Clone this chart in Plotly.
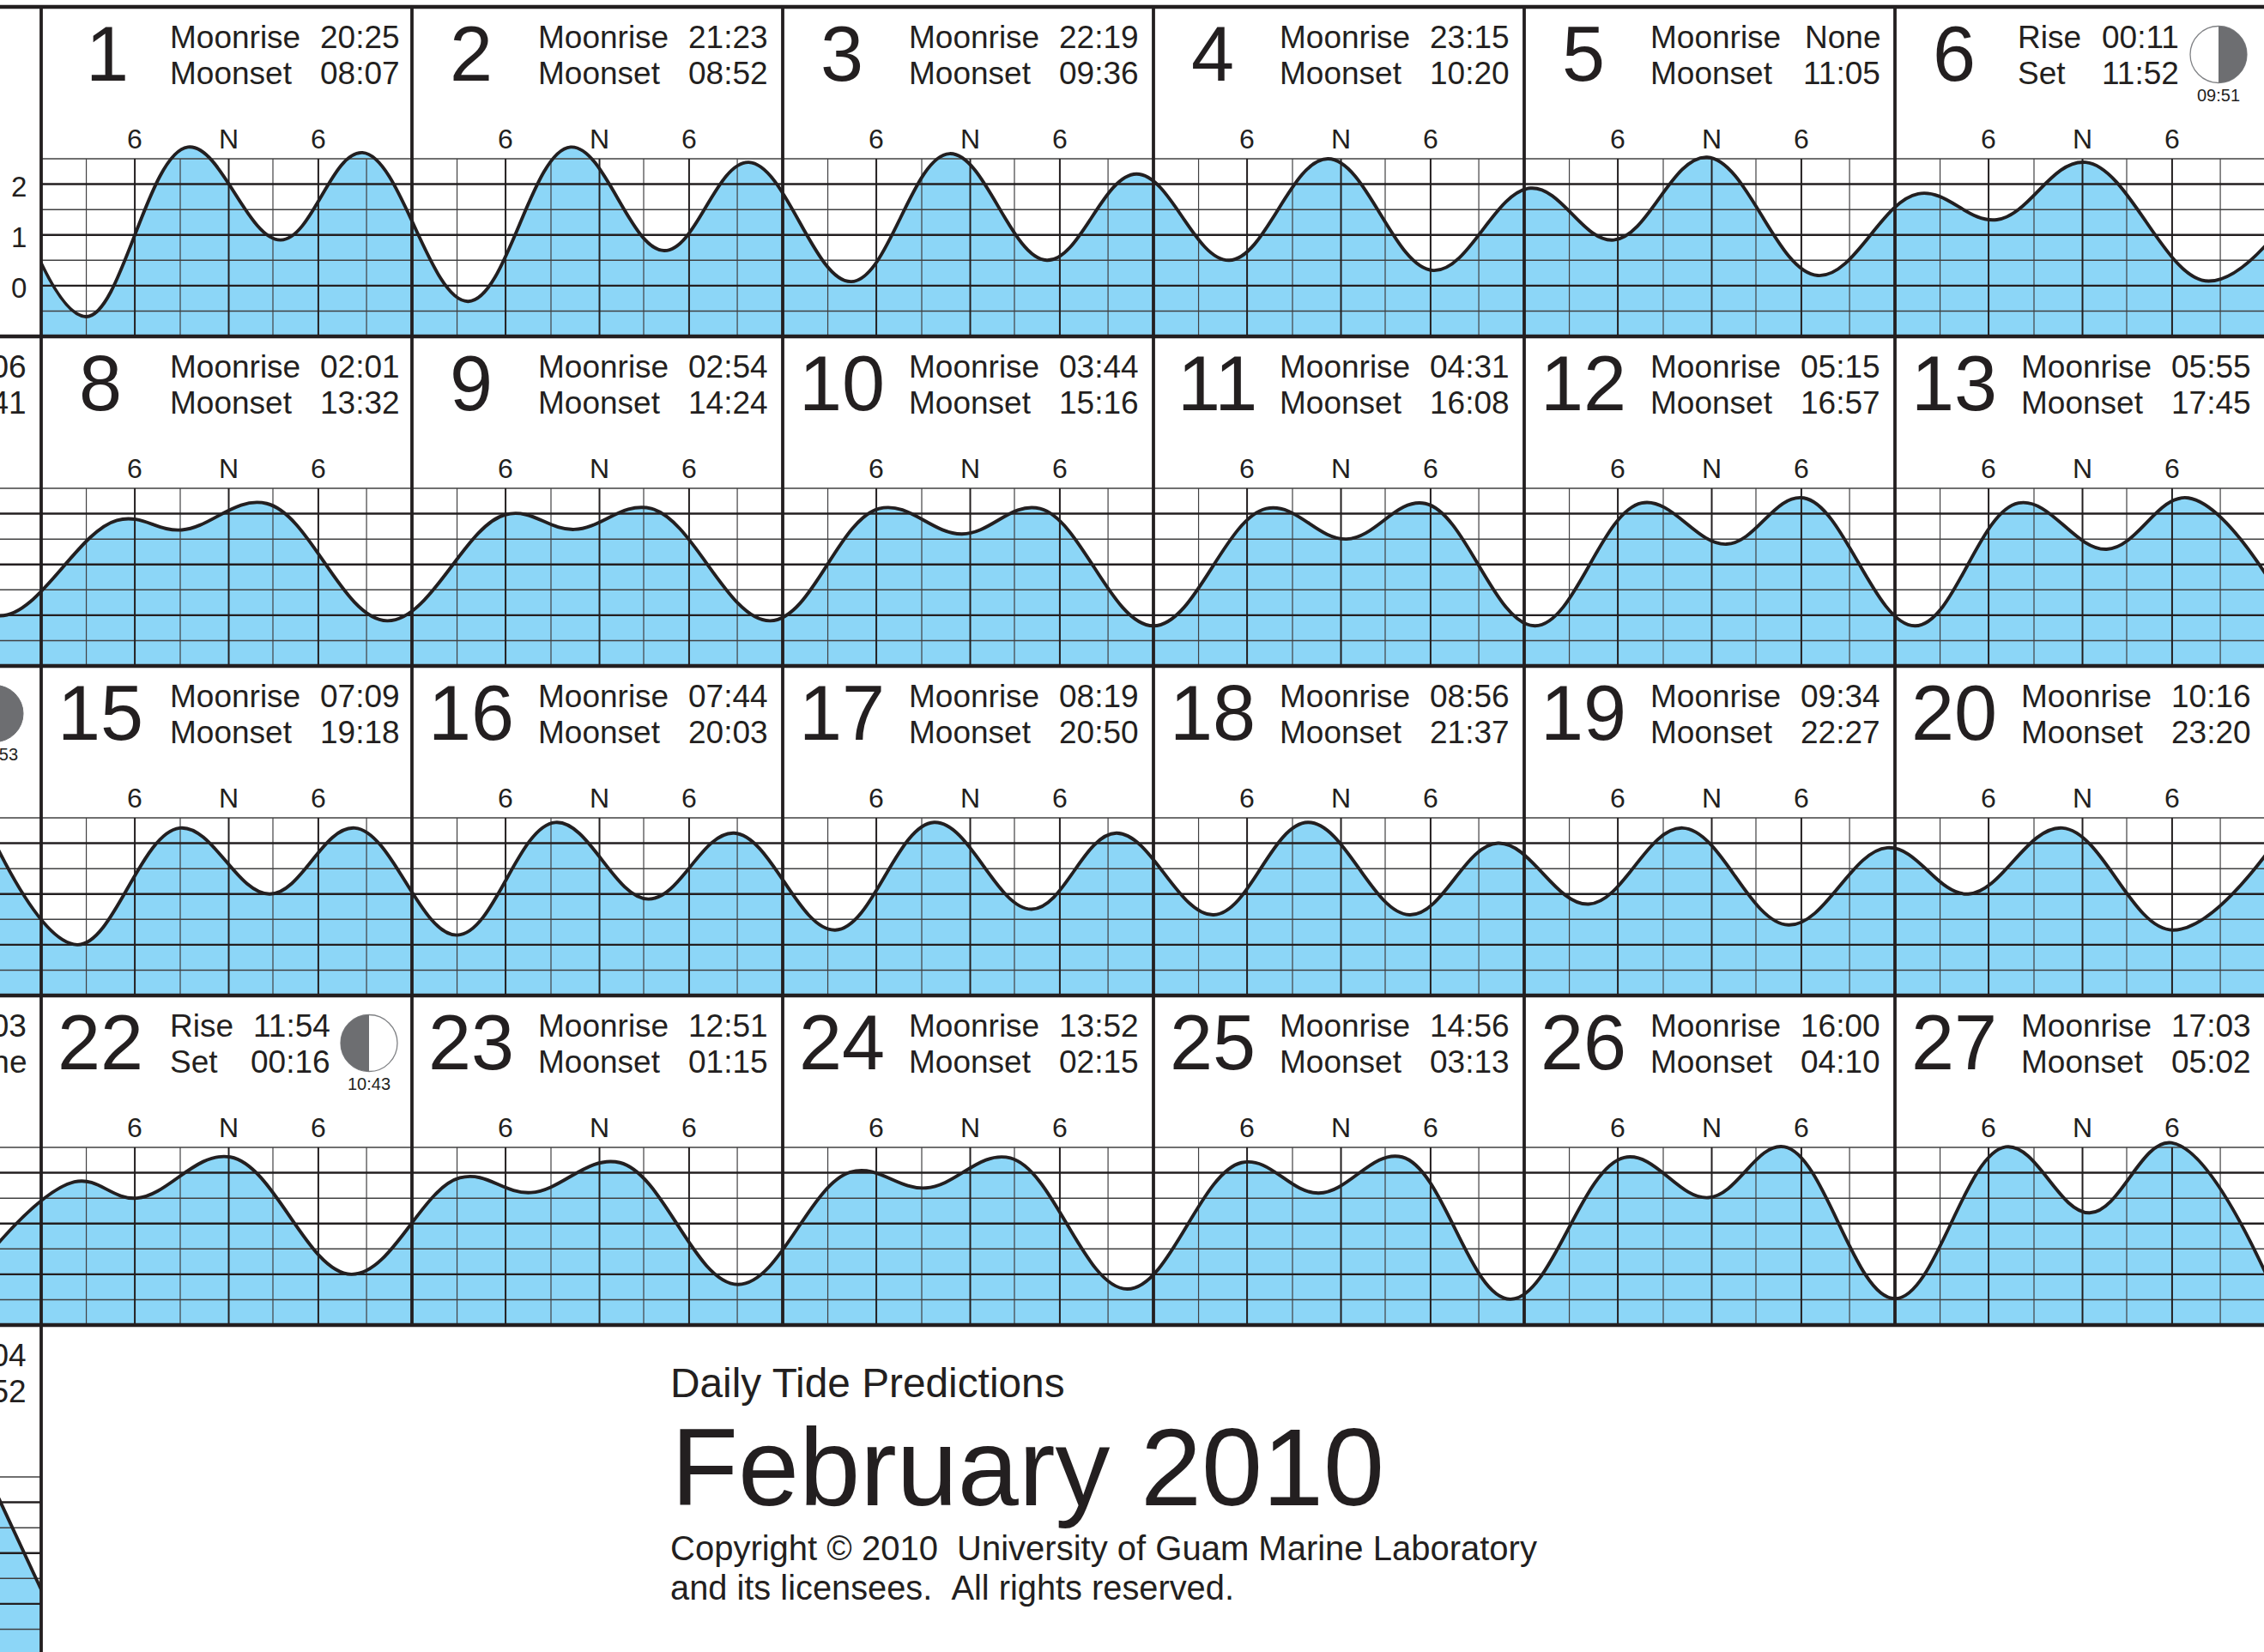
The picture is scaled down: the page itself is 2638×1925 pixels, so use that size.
import plotly.graph_objects as go

# ---------- data: high and low water of each day ----------
# hours are counted from the start of that day's cell, heights are in feet
day00_hours = [21.3]
day00_feet = [2.6]
day01_hours = [2.9, 9.5, 15.5, 20.8]
day01_feet = [-0.61, 2.73, 0.90, 2.62]
day02_hours = [3.64, 10.27, 16.33, 21.8]
day02_feet = [-0.31, 2.73, 0.69, 2.43]
day03_hours = [4.44, 10.8, 17.1, 22.9]
day03_feet = [0.08, 2.6, 0.5, 2.2]
day04_hours = [4.9, 11.3, 18.1]
day04_feet = [0.5, 2.5, 0.3]
day05_hours = [0.4, 5.8, 11.84, 19.0]
day05_feet = [1.92, 0.9, 2.53, 0.2]
day06_hours = [1.5, 6.6, 12.35, 20.3, 27.0]
day06_feet = [1.81, 1.3, 2.43, 0.09, 2.0]

day07_hours = [15.0, 21.2]
day07_feet = [2.15, -0.01]
day08_hours = [4.9, 9.1, 14.6, 22.4]
day08_feet = [1.87, 1.68, 2.2, -0.11]
day09_hours = [6.03, 10.5, 15.5, 23.2]
day09_feet = [1.98, 1.69, 2.1, -0.11]
day10_hours = [6.24, 11.6, 16.66]
day10_feet = [2.1, 1.6, 2.1]
day11_hours = [0.0, 7.3, 12.5, 17.6]
day11_feet = [-0.21, 2.1, 1.5, 2.2]
day12_hours = [0.7, 7.6, 13.1, 18.1]
day12_feet = [-0.21, 2.21, 1.4, 2.31]
day13_hours = [1.3, 8.0, 13.7, 19.0, 26.2]
day13_feet = [-0.21, 2.21, 1.3, 2.31, -0.3]

day14_hours = [20.3]
day14_feet = [2.45]
day15_hours = [2.33, 8.96, 14.8, 20.3]
day15_feet = [0.0, 2.3, 1.0, 2.3]
day16_hours = [2.93, 9.28, 15.3, 20.86]
day16_feet = [0.19, 2.41, 0.9, 2.2]
day17_hours = [3.4, 9.8, 16.1, 21.6]
day17_feet = [0.29, 2.41, 0.7, 2.2]
day18_hours = [3.9, 10.0, 16.57, 22.3]
day18_feet = [0.59, 2.41, 0.59, 2.0]
day19_hours = [4.17, 10.25, 17.1, 23.5]
day19_feet = [0.8, 2.3, 0.39, 1.91]
day20_hours = [4.74, 10.84, 18.0, 25.5]
day20_feet = [1.0, 2.3, 0.29, 2.4]

day21_hours = [19.8]
day21_feet = [0.1]
day22_hours = [2.15, 6.2, 12.25, 20.07]
day22_feet = [1.82, 1.5, 2.31, 0.0]
day23_hours = [3.1, 7.7, 13.46, 21.1]
day23_feet = [1.9, 1.61, 2.2, -0.2]
day24_hours = [4.37, 9.27, 14.74, 22.3]
day24_feet = [2.01, 1.7, 2.29, -0.29]
day25_hours = [5.7, 10.7, 16.1, 23.1]
day25_feet = [2.2, 1.6, 2.31, -0.49]
day26_hours = [6.47, 11.93, 16.85, 24.0]
day26_feet = [2.3, 1.51, 2.51, -0.48]
day27_hours = [7.17, 12.6, 17.9, 25.2]
day27_feet = [2.51, 1.21, 2.59, -0.8]
day28_hours = [20.3, 25.5]
day28_feet = [2.7, -0.7]

moonrise = {1: "20:25", 2: "21:23", 3: "22:19", 4: "23:15", 5: "None", 6: "00:11", 7: "01:06",
            8: "02:01", 9: "02:54", 10: "03:44", 11: "04:31", 12: "05:15", 13: "05:55",
            15: "07:09", 16: "07:44", 17: "08:19", 18: "08:56", 19: "09:34", 20: "10:16", 21: "11:03",
            22: "11:54", 23: "12:51", 24: "13:52", 25: "14:56", 26: "16:00", 27: "17:03", 28: "18:04"}
moonset = {1: "08:07", 2: "08:52", 3: "09:36", 4: "10:20", 5: "11:05", 6: "11:52", 7: "12:41",
           8: "13:32", 9: "14:24", 10: "15:16", 11: "16:08", 12: "16:57", 13: "17:45",
           15: "19:18", 16: "20:03", 17: "20:50", 18: "21:37", 19: "22:27", 20: "23:20", 21: "None",
           22: "00:16", 23: "01:15", 24: "02:15", 25: "03:13", 26: "04:10", 27: "05:02", 28: "05:52"}
row_days = [[0, 1, 2, 3, 4, 5, 6], [7, 8, 9, 10, 11, 12, 13], [14, 15, 16, 17, 18, 19, 20],
            [21, 22, 23, 24, 25, 26, 27], [28]]
hour_lines_major = [0, 6.06, 12.14, 17.94]
hour_lines_minor = [2.92, 9.0, 15.0, 21.06]
hour_labels = ["6", "N", "6"]
feet_lines_major = [0, 1, 2]
feet_lines_minor = [-0.5, 0.5, 1.5, 2.5]
title_top = "Daily Tide Predictions"
title_main = "February 2010"
copyright_1 = "Copyright © 2010\u00a0\u00a0University of Guam Marine Laboratory"
copyright_2 = "and its licensees.\u00a0\u00a0All rights reserved."

# ---------- layout constants (pixels) ----------
W, H = 2638, 1925
CELL_W, CELL_H = 432, 384
X0, Y0 = 48, 8
PX_PER_HOUR = CELL_W / 24
PX_PER_FOOT = 207 / 3.5
INK = "#231f20"
BLUE = "#8cd6f7"
FONT = "Liberation Sans, Arial, sans-serif"
YMAX = 3.2
SMOOTH = 1.1

fig = go.Figure()
layout = dict(
    width=W, height=H, autosize=False, showlegend=False,
    margin=dict(l=0, r=0, t=0, b=0), paper_bgcolor="white", plot_bgcolor="rgba(0,0,0,0)",
    hovermode=False,
)
annotations, shapes = [], []


def text(x, y, s, size, anchor="left", color=INK):
    annotations.append(dict(x=x, y=y, xref="x6", yref="y6", text=s, showarrow=False, xanchor=anchor,
                            yanchor="middle", align=anchor, borderpad=0,
                            font=dict(family=FONT, size=size, color=color)))


def day_series(day):
    num = f"{day:02d}"
    return globals()[f"day{num}_hours"], globals()[f"day{num}_feet"]


for r, days in enumerate(row_days):
    n = r + 1
    bottom = Y0 + CELL_H * (r + 1)
    y_lo = -1 + max(0, bottom - H) / PX_PER_FOOT
    top_px = bottom - (YMAX + 1) * PX_PER_FOOT
    xa, ya = f"x{n}", f"y{n}"
    # the row's plot window: the first row starts at the first cell, the last one stops there
    px_left = X0 if r == 0 else 0
    px_right = X0 if r == 4 else W
    x_start = (px_left - X0) / PX_PER_HOUR
    x_end = (px_right - X0) / PX_PER_HOUR
    layout[f"xaxis{n}"] = dict(domain=[px_left / W, px_right / W], range=[x_start, x_end], visible=False,
                               anchor=ya, fixedrange=True)
    layout[f"yaxis{n}"] = dict(domain=[(H - min(bottom, H)) / H, (H - top_px) / H], range=[y_lo, YMAX], visible=False,
                               anchor=xa, fixedrange=True)
    xs, ys = [], []
    for i, d in enumerate(days):
        col = i - 1
        hrs, ft = day_series(d)
        xs += [h + 24 * col for h in hrs]
        ys += ft
    # baseline + fill
    fig.add_trace(go.Scatter(x=[min(xs), max(xs)], y=[-1, -1], mode="lines", line=dict(width=0, color=BLUE),
                             xaxis=xa, yaxis=ya, hoverinfo="skip"))
    fig.add_trace(go.Scatter(x=xs, y=ys, mode="lines", line=dict(width=0, shape="spline", smoothing=SMOOTH, color=BLUE),
                             fill="tonexty", fillcolor=BLUE, xaxis=xa, yaxis=ya, hoverinfo="skip"))

    # grid, drawn between the fill and the curve
    col_first = 0 if r == 0 else -1
    col_last = -1 if r == 4 else 5

    def vgrid(hours):
        gx, gy = [], []
        for c in range(col_first, col_last + 1):
            for h in hours:
                gx += [h + 24 * c, h + 24 * c, None]
                gy += [-1, 2.5, None]
        return gx, gy

    def hgrid(levels):
        gx, gy = [], []
        for v in levels:
            gx += [x_start, x_end, None]
            gy += [v, v, None]
        return gx, gy

    gx, gy = hgrid(feet_lines_minor)
    fig.add_trace(go.Scatter(x=gx, y=gy, mode="lines", line=dict(width=1.5, color="#404041"), xaxis=xa, yaxis=ya, hoverinfo="skip"))
    gx, gy = vgrid(hour_lines_minor)
    fig.add_trace(go.Scatter(x=gx, y=gy, mode="lines", line=dict(width=1.2, color="#414042"), xaxis=xa, yaxis=ya, hoverinfo="skip"))
    gx, gy = vgrid(hour_lines_major)
    fig.add_trace(go.Scatter(x=gx, y=gy, mode="lines", line=dict(width=2, color=INK), xaxis=xa, yaxis=ya, hoverinfo="skip"))
    gx, gy = hgrid(feet_lines_major)
    fig.add_trace(go.Scatter(x=gx, y=gy, mode="lines", line=dict(width=2.4, color=INK), xaxis=xa, yaxis=ya, hoverinfo="skip"))
    # curve
    fig.add_trace(go.Scatter(x=xs, y=ys, mode="lines", line=dict(width=3.9, shape="spline", smoothing=SMOOTH, color=INK),
                             xaxis=xa, yaxis=ya, hoverinfo="skip"))

# overlay axis in pixels for the frame, texts and moon symbols
layout["xaxis6"] = dict(domain=[0, 1], range=[0, W], visible=False, anchor="y6", fixedrange=True)
layout["yaxis6"] = dict(domain=[0, 1], range=[H, 0], visible=False, anchor="x6", fixedrange=True)

# frame
fx, fy = [], []
for k in range(0, 5):
    yy = Y0 + CELL_H * k
    fx += [0, W, None]
    fy += [yy, yy, None]
fig.add_trace(go.Scatter(x=fx, y=fy, mode="lines", line=dict(width=4.5, color=INK), xaxis="x6", yaxis="y6", hoverinfo="skip"))
fx, fy = [], []
for c in range(0, 6):
    xx = X0 + CELL_W * c
    end = H if c == 0 else Y0 + CELL_H * 4
    fx += [xx, xx, None]
    fy += [Y0, end, None]
fig.add_trace(go.Scatter(x=fx, y=fy, mode="lines", line=dict(width=3.8, color=INK), xaxis="x6", yaxis="y6", hoverinfo="skip"))

# cell texts
number_shift = {1: 8, 11: 5}
for r, days in enumerate(row_days):
    ry = Y0 + CELL_H * r
    for i, d in enumerate(days):
        if d not in moonrise:
            continue
        col = i - 1
        cx = X0 + CELL_W * col
        moon_day = d in (6, 22)
        label_x = 149 if col == 0 else 145.5
        time_x = 418.5 if col == 0 else 415.5
        if moon_day:
            label_x = 148.5 if col == 0 else 142
            time_x = 338 if col == 0 else 332
        if col >= 0:
            text(cx + 69 + number_shift.get(d, 0), ry + 55, str(d), 90, "center")
            text(cx + label_x, ry + 35.2, "Rise" if moon_day else "Moonrise", 37)
            text(cx + label_x, ry + 77.2, "Set" if moon_day else "Moonset", 37)
            for h, lab in zip(hour_lines_major[1:], hour_labels):
                text(cx + h * PX_PER_HOUR, ry + 154, lab, 32, "center")
        text(cx + time_x, ry + 35.2, moonrise[d], 37, "right")
        text(cx + time_x, ry + 77.2, moonset[d], 37, "right")

# feet labels on the first row
for v in feet_lines_major:
    text(22, Y0 + 177 + (2.5 - v) * PX_PER_FOOT + 3, str(v), 33, "center")

# moons
GREY = "#6d6e71"
K = 0.5523


def half(cx, cy, r, side):
    s = side * r
    return (f"M {cx},{cy - r} C {cx + s * K},{cy - r} {cx + s},{cy - r * K} {cx + s},{cy} "
            f"C {cx + s},{cy + r * K} {cx + s * K},{cy + r} {cx},{cy + r} Z")


moons = [(X0 + CELL_W * 5 + 377, Y0 + 55.5, 1, "09:51"),
         (X0 + 382, Y0 + CELL_H * 3 + 55.5, -1, "10:43")]
for cx, cy, side, lab in moons:
    shapes.append(dict(type="circle", xref="x6", yref="y6", x0=cx - 33, x1=cx + 33, y0=cy - 33, y1=cy + 33,
                       line=dict(color="#808285", width=1.3), fillcolor="white", layer="above"))
    shapes.append(dict(type="path", xref="x6", yref="y6", path=half(cx, cy, 33, side),
                       fillcolor=GREY, line=dict(width=0), layer="above"))
    text(cx, cy + 47.5, lab, 20, "center")
# new moon on the 14th, cut by the left edge of the picture
ncx, ncy = X0 - CELL_W + 378, Y0 + CELL_H * 2 + 55.5
shapes.append(dict(type="circle", xref="x6", yref="y6", x0=ncx - 33, x1=ncx + 33, y0=ncy - 33, y1=ncy + 33,
                   line=dict(color=GREY, width=1), fillcolor=GREY, layer="above"))
text(22, ncy + 47.5, "12:53", 20, "right")

# title block
text(780, 1611.5, title_top, 47.8)
text(781, 1709, title_main, 127.8)
text(780, 1803.5, copyright_1, 40)
text(780, 1849.5, copyright_2, 39.8)

layout["annotations"] = annotations
layout["shapes"] = shapes
fig.update_layout(**layout)
fig.write_html("out.html", config={"displayModeBar": False},
               post_script="document.body.style.margin='0';document.body.style.overflow='hidden';")
